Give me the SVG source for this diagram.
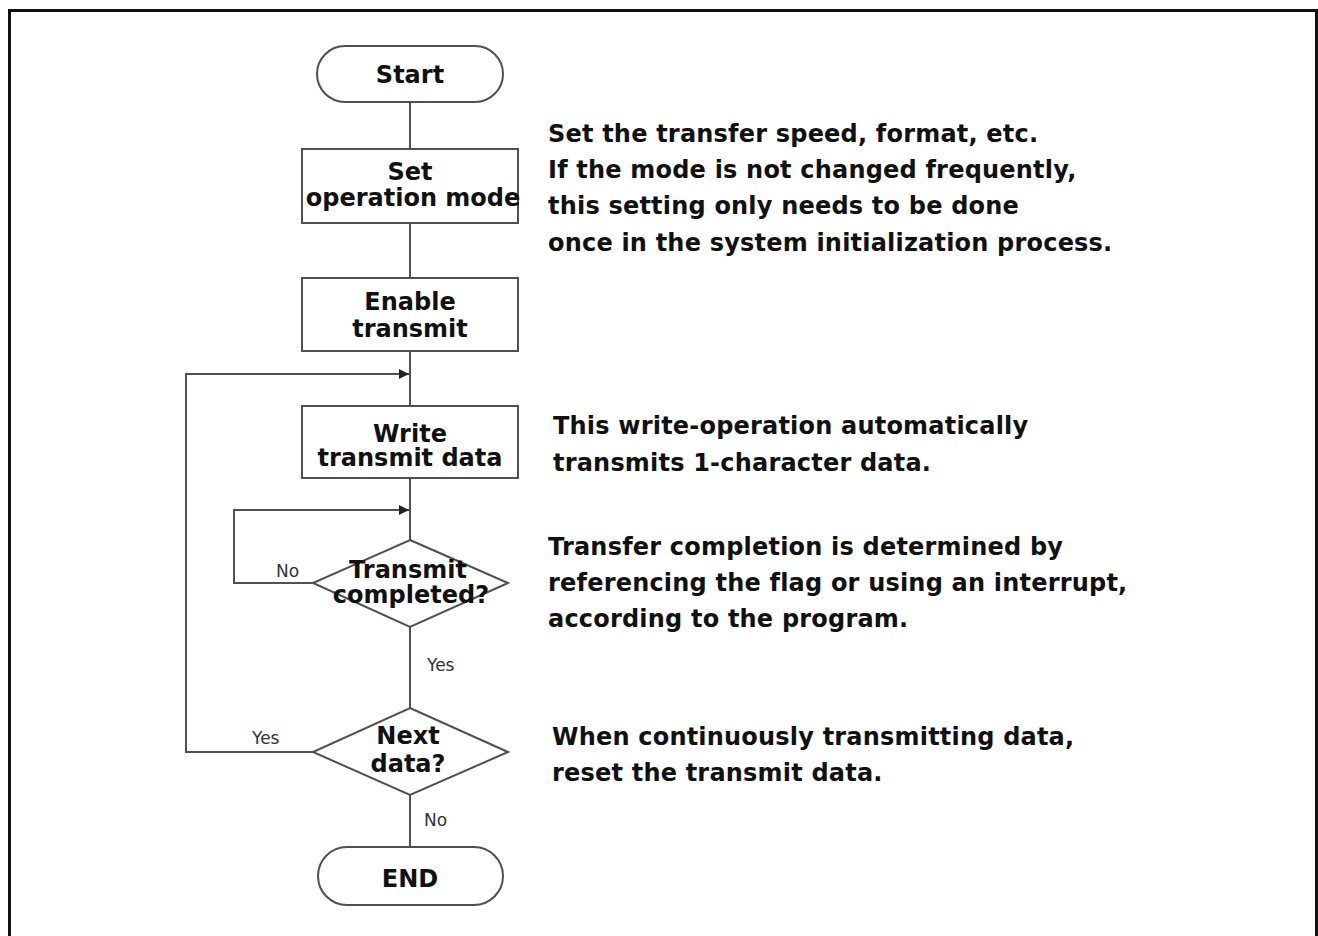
<svg xmlns="http://www.w3.org/2000/svg" width="1318" height="936" viewBox="0 0 1318 936">
  <style>
    .shape { fill: #ffffff; stroke: #505050; stroke-width: 2; }
    .wire { fill: none; stroke: #505050; stroke-width: 2; }
    .node-text { font-family: "DejaVu Sans", Verdana, sans-serif; font-weight: bold; font-size: 24px; fill: #111111; text-anchor: middle; }
    .note { font-family: "DejaVu Sans", Verdana, sans-serif; font-weight: bold; font-size: 24px; fill: #111111; letter-spacing: 0.2px; }
    .branch { font-family: "DejaVu Sans", Verdana, sans-serif; font-size: 17px; fill: #333333; }
  </style>
  <defs>
    <marker id="arrow" viewBox="0 0 10 10" refX="10" refY="5" markerWidth="5.5" markerHeight="5" orient="auto" markerUnits="strokeWidth">
      <path d="M0,0 L10,5 L0,10 Z" fill="#222222"/>
    </marker>
  </defs>

  <rect width="1318" height="936" fill="#ffffff"/>
  <!-- frame (open at the bottom) -->
  <path d="M9.5,936 V10.5 H1316.5 V936" fill="none" stroke="#111111" stroke-width="3"/>

  <g id="connectors">
    <line class="wire" x1="410" y1="102" x2="410" y2="149"/>
    <line class="wire" x1="410" y1="223" x2="410" y2="279"/>
    <line class="wire" x1="410" y1="351" x2="410" y2="406"/>
    <line class="wire" x1="410" y1="478" x2="410" y2="540"/>
    <line class="wire" x1="410" y1="627" x2="410" y2="708"/>
    <line class="wire" x1="410" y1="795" x2="410" y2="847"/>
    <!-- retry loop while transmission pending -->
    <polyline class="wire" points="313,583 234,583 234,510 409,510" marker-end="url(#arrow)"/>
    <!-- loop back for next data -->
    <polyline class="wire" points="313,752 186,752 186,374 409,374" marker-end="url(#arrow)"/>
    <text class="branch" x="276" y="577">No</text>
    <text class="branch" x="427" y="671">Yes</text>
    <text class="branch" x="252" y="744">Yes</text>
    <text class="branch" x="424" y="826">No</text>
  </g>

  <g id="start">
    <rect class="shape" x="317" y="46" width="186" height="56" rx="28" ry="28"/>
    <text class="node-text" x="410" y="83">Start</text>
  </g>

  <g id="set-mode">
    <rect class="shape" x="302" y="149" width="216" height="74"/>
    <text class="node-text" x="410" y="180">Set</text>
    <text class="node-text" x="413" y="206">operation mode</text>
  </g>

  <g id="enable-transmit">
    <rect class="shape" x="302" y="278" width="216" height="73"/>
    <text class="node-text" x="410" y="310">Enable</text>
    <text class="node-text" x="410" y="337">transmit</text>
  </g>

  <g id="write-data">
    <rect class="shape" x="302" y="406" width="216" height="72"/>
    <text class="node-text" x="410" y="442">Write</text>
    <text class="node-text" x="410" y="466">transmit data</text>
  </g>

  <g id="transmit-completed">
    <polygon class="shape" points="410,540 508,583 410,627 313,583"/>
    <text class="node-text" x="408" y="578">Transmit</text>
    <text class="node-text" x="411" y="603">completed?</text>
  </g>

  <g id="next-data">
    <polygon class="shape" points="410,708 508,752 410,795 313,752"/>
    <text class="node-text" x="408" y="744">Next</text>
    <text class="node-text" x="408" y="772">data?</text>
  </g>

  <g id="end">
    <rect class="shape" x="318" y="847" width="185" height="58" rx="29" ry="29"/>
    <text class="node-text" x="410" y="887">END</text>
  </g>

  <g id="notes">
    <text class="note" x="548" y="142">Set the transfer speed, format, etc.</text>
    <text class="note" x="548" y="178">If the mode is not changed frequently,</text>
    <text class="note" x="548" y="214">this setting only needs to be done</text>
    <text class="note" x="548" y="251">once in the system initialization process.</text>

    <text class="note" x="553" y="434">This write-operation automatically</text>
    <text class="note" x="553" y="471">transmits 1-character data.</text>

    <text class="note" x="548" y="555">Transfer completion is determined by</text>
    <text class="note" x="548" y="591">referencing the flag or using an interrupt,</text>
    <text class="note" x="548" y="627">according to the program.</text>

    <text class="note" x="552" y="745">When continuously transmitting data,</text>
    <text class="note" x="552" y="781">reset the transmit data.</text>
  </g>
</svg>
